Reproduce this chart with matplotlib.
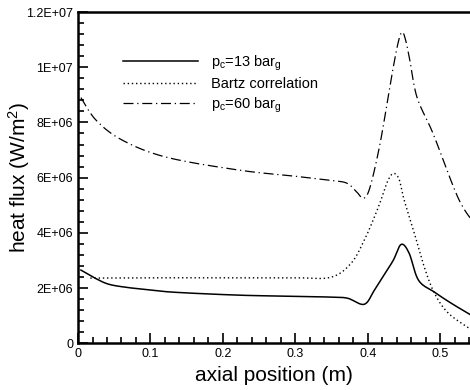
import numpy as np
import matplotlib
matplotlib.use("Agg")
import matplotlib.pyplot as plt
from matplotlib.ticker import MultipleLocator, FixedFormatter, FixedLocator

plt.rcParams['font.family'] = ['Liberation Sans', 'DejaVu Sans']
plt.rcParams['mathtext.fontset'] = 'custom'
plt.rcParams['mathtext.rm'] = 'Liberation Sans'
plt.rcParams['mathtext.it'] = 'Liberation Sans'

# p_c = 13 bar_g
x_13 = [0.004, 0.024, 0.042, 0.065, 0.089, 0.131, 0.223, 0.30, 0.349, 0.372,
        0.395, 0.409, 0.422, 0.435, 0.446, 0.457, 0.47,
        0.492, 0.515, 0.543]
q_13 = [2.65e6, 2.35e6, 2.14e6, 2.03e6, 1.96e6, 1.85e6, 1.74e6, 1.70e6, 1.67e6, 1.63e6,
        1.41e6, 1.92e6, 2.46e6, 3.0e6, 3.58e6, 3.26e6, 2.28e6,
        1.85e6, 1.45e6, 1.01e6]

# Bartz correlation
x_bz = [0.017, 0.10, 0.20, 0.30, 0.349, 0.377, 0.395, 0.409, 0.418, 0.427,
        0.435, 0.443, 0.450, 0.464, 0.478, 0.492, 0.511, 0.541]
q_bz = [2.36e6, 2.37e6, 2.37e6, 2.37e6, 2.39e6, 2.9e6, 3.73e6, 4.57e6, 5.18e6, 5.85e6,
        6.15e6, 5.95e6, 5.2e6, 4.0e6, 2.75e6, 1.81e6, 1.09e6, 0.52e6]

# p_c = 60 bar_g
x_60 = [0.004, 0.025, 0.061, 0.122, 0.223, 0.30, 0.348, 0.371, 0.385, 0.394, 0.403,
        0.417, 0.431, 0.441, 0.447, 0.452, 0.458, 0.468, 0.49, 0.524, 0.545]
q_60 = [8.9e6, 8.08e6, 7.36e6, 6.74e6, 6.27e6, 6.05e6, 5.9e6, 5.8e6, 5.47e6, 5.25e6, 5.65e6,
        7.25e6, 9.4e6, 10.8e6, 11.27e6, 11.0e6, 10.25e6, 8.9e6, 7.6e6, 5.3e6, 4.4e6]

ytick_vals = [0, 2e6, 4e6, 6e6, 8e6, 1e7, 1.2e7]
ytick_labels = ['0', '2E+06', '4E+06', '6E+06', '8E+06', '1E+07', '1.2E+07']
xtick_vals = [0, 0.1, 0.2, 0.3, 0.4, 0.5]
xtick_labels = ['0', '0.1', '0.2', '0.3', '0.4', '0.5']


def smooth(xs, ys):
    # Catmull-Rom curve through the read points
    xs = np.asarray(xs)
    ys = np.asarray(ys)
    px = [xs[0]] + list(xs) + [xs[-1]]
    py = [ys[0]] + list(ys) + [ys[-1]]
    out_x, out_y = [], []
    for i in range(1, len(px) - 2):
        t = np.linspace(0, 1, 20, endpoint=False)
        for arr, out in ((px, out_x), (py, out_y)):
            p0, p1, p2, p3 = arr[i - 1], arr[i], arr[i + 1], arr[i + 2]
            out.extend(0.5 * ((2 * p1) + (-p0 + p2) * t + (2 * p0 - 5 * p1 + 4 * p2 - p3) * t ** 2
                              + (-p0 + 3 * p1 - 3 * p2 + p3) * t ** 3))
    out_x.append(xs[-1])
    out_y.append(ys[-1])
    return np.array(out_x), np.array(out_y)


fig = plt.figure(figsize=(4.7, 3.9), dpi=100)
ax = fig.add_axes([0.166, 0.12, 0.834, 0.849])

sx, sy = smooth(x_13, q_13)
ax.plot(sx, sy, color='black', lw=1.1, ls='-', label=r'p$_\mathregular{c}$=13 bar$_\mathregular{g}$')
sx, sy = smooth(x_bz, q_bz)
ax.plot(sx, sy, color='black', lw=1.0, ls=(0, (1, 2)), label='Bartz correlation')
sx, sy = smooth(x_60, q_60)
ax.plot(sx, sy, color='black', lw=0.9, ls=(0, (8, 3, 1, 3)), label=r'p$_\mathregular{c}$=60 bar$_\mathregular{g}$')

ax.set_xlim(0, 0.541)
ax.set_ylim(0, 1.2e7)

ax.yaxis.set_major_locator(FixedLocator(ytick_vals))
ax.yaxis.set_major_formatter(FixedFormatter(ytick_labels))
ax.yaxis.set_minor_locator(MultipleLocator(4e5))
ax.xaxis.set_major_locator(FixedLocator(xtick_vals))
ax.xaxis.set_major_formatter(FixedFormatter(xtick_labels))
ax.xaxis.set_minor_locator(MultipleLocator(0.02))

ax.tick_params(which='both', direction='in', width=1.2, labelsize=9)
ax.tick_params(which='major', length=7)
ax.tick_params(which='minor', length=4)
ax.tick_params(top=False, right=False, which='both')
for s in ax.spines.values():
    s.set_linewidth(1.8)
ax.spines['right'].set_visible(False)

ax.set_xlabel('axial position (m)', fontsize=15, labelpad=4)
ax.set_ylabel(r'heat flux (W/m$^\mathregular{2}$)', fontsize=15)
# label tucked in between the tick labels, as in the original
ax.yaxis.set_label_coords(-0.118, 0.5)

ax.legend(loc='upper left', bbox_to_anchor=(0.08, 0.915), frameon=False, fontsize=10.5,
          handlelength=5.2, handletextpad=0.9, labelspacing=0.3)

fig.savefig('out.png', dpi=100)
